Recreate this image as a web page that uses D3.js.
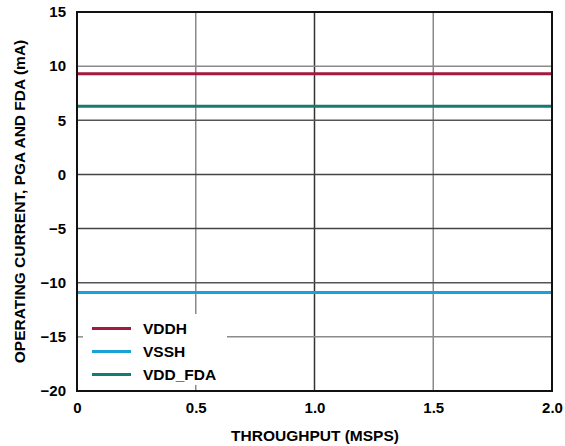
<!DOCTYPE html>
<html><head><meta charset="utf-8">
<script src="https://cdn.jsdelivr.net/npm/d3@7/dist/d3.min.js"></script>
<style>body{margin:0;background:#fff}text{font-family:"Liberation Sans",Arial,sans-serif;font-weight:bold;fill:#000}</style>
</head><body><svg id="c" width="565" height="446"></svg>
<script>
const seriesNames = ["VDDH", "VSSH", "VDD_FDA"];
const seriesColors = ["#A3193F", "#1BA0D7", "#157A72"];
const xValues = [0, 0.5, 1.0, 1.5, 2.0];
const vddh = [9.3, 9.3, 9.3, 9.3, 9.3];
const vssh = [-10.9, -10.9, -10.9, -10.9, -10.9];
const vddFda = [6.3, 6.3, 6.3, 6.3, 6.3];
const xTicks = [0, 0.5, 1.0, 1.5, 2.0];
const xTickLabels = ["0", "0.5", "1.0", "1.5", "2.0"];
const yTicks = [-20, -15, -10, -5, 0, 5, 10, 15];
const xTitle = "THROUGHPUT (MSPS)";
const yTitle = "OPERATING CURRENT, PGA AND FDA (mA)";

const svg = d3.select("#c");
const L = 77, R = 552, T = 12, B = 391;
const x = d3.scaleLinear().domain([0, 2]).range([L, R]);
const y = d3.scaleLinear().domain([-20, 15]).range([B, T]);

const vGridColors = {0.5: "#8a8a8a", 1: "#333", 1.5: "#8a8a8a"};
const hGridColors = {"-15": "#8a8a8a", "-10": "#555", "-5": "#444", "0": "#444", "5": "#555", "10": "#8a8a8a"};

const g = svg.append("g");
xTicks.filter(t => t > 0 && t < 2).forEach(t => {
  g.append("line").attr("x1", x(t)).attr("x2", x(t)).attr("y1", T).attr("y2", B)
   .attr("stroke", vGridColors[t]).attr("stroke-width", 1.5);
});
yTicks.filter(t => t > -20 && t < 15).forEach(t => {
  g.append("line").attr("x1", L).attr("x2", R).attr("y1", y(t)).attr("y2", y(t))
   .attr("stroke", hGridColors[String(t)]).attr("stroke-width", 1.5);
});

const data = [vddh, vssh, vddFda];
const line = d3.line().x((d, i) => x(xValues[i])).y(d => y(d));
data.forEach((s, i) => {
  svg.append("path").attr("d", line(s)).attr("fill", "none")
    .attr("stroke", seriesColors[i]).attr("stroke-width", 3);
});

// legend box (white) covering grid
const lg = svg.append("g");
lg.append("rect").attr("x", L + 1).attr("y", 314).attr("width", 226 - L).attr("height", B - 314).attr("fill", "#fff");
lg.append("line").attr("x1", L).attr("x2", L + 6).attr("y1", y(-15)).attr("y2", y(-15)).attr("stroke", "#8a8a8a").attr("stroke-width", 1.5);
lg.append("line").attr("x1", x(0.5)).attr("x2", x(0.5)).attr("y1", B - 6).attr("y2", B).attr("stroke", "#8a8a8a").attr("stroke-width", 1.5);
seriesNames.forEach((n, i) => {
  const yy = 328.5 + i * 23;
  lg.append("line").attr("x1", 92).attr("x2", 131).attr("y1", yy).attr("y2", yy)
    .attr("stroke", seriesColors[i]).attr("stroke-width", 3);
  lg.append("text").attr("x", 143).attr("y", yy + 5.5).attr("font-size", 15.5).text(n);
});

// frame
svg.append("rect").attr("x", L).attr("y", T).attr("width", R - L).attr("height", B - T)
  .attr("fill", "none").attr("stroke", "#111").attr("stroke-width", 2);

// axes
const ya = svg.append("g").attr("transform", `translate(${L},0)`)
  .call(d3.axisLeft(y).tickValues(yTicks).tickSize(0).tickPadding(11).tickFormat(d => d < 0 ? "\u2212" + Math.abs(d) : d));
ya.select(".domain").remove();
ya.selectAll("text").attr("font-size", 15).attr("font-family", "Liberation Sans, Arial").attr("font-weight", "bold").attr("fill", "#000");

const xa = svg.append("g").attr("transform", `translate(0,${B})`)
  .call(d3.axisBottom(x).tickValues(xTicks).tickSize(0).tickPadding(11).tickFormat((d, i) => xTickLabels[i]));
xa.select(".domain").remove();
xa.selectAll("text").attr("font-size", 15).attr("font-family", "Liberation Sans, Arial").attr("font-weight", "bold").attr("fill", "#000");

svg.append("text").attr("x", 315).attr("y", 441).attr("text-anchor", "middle").attr("font-size", 15.5).text(xTitle);
svg.append("text").attr("transform", `translate(25,201.5) rotate(-90)`).attr("text-anchor", "middle").attr("font-size", 15.5).text(yTitle);
</script></body></html>
